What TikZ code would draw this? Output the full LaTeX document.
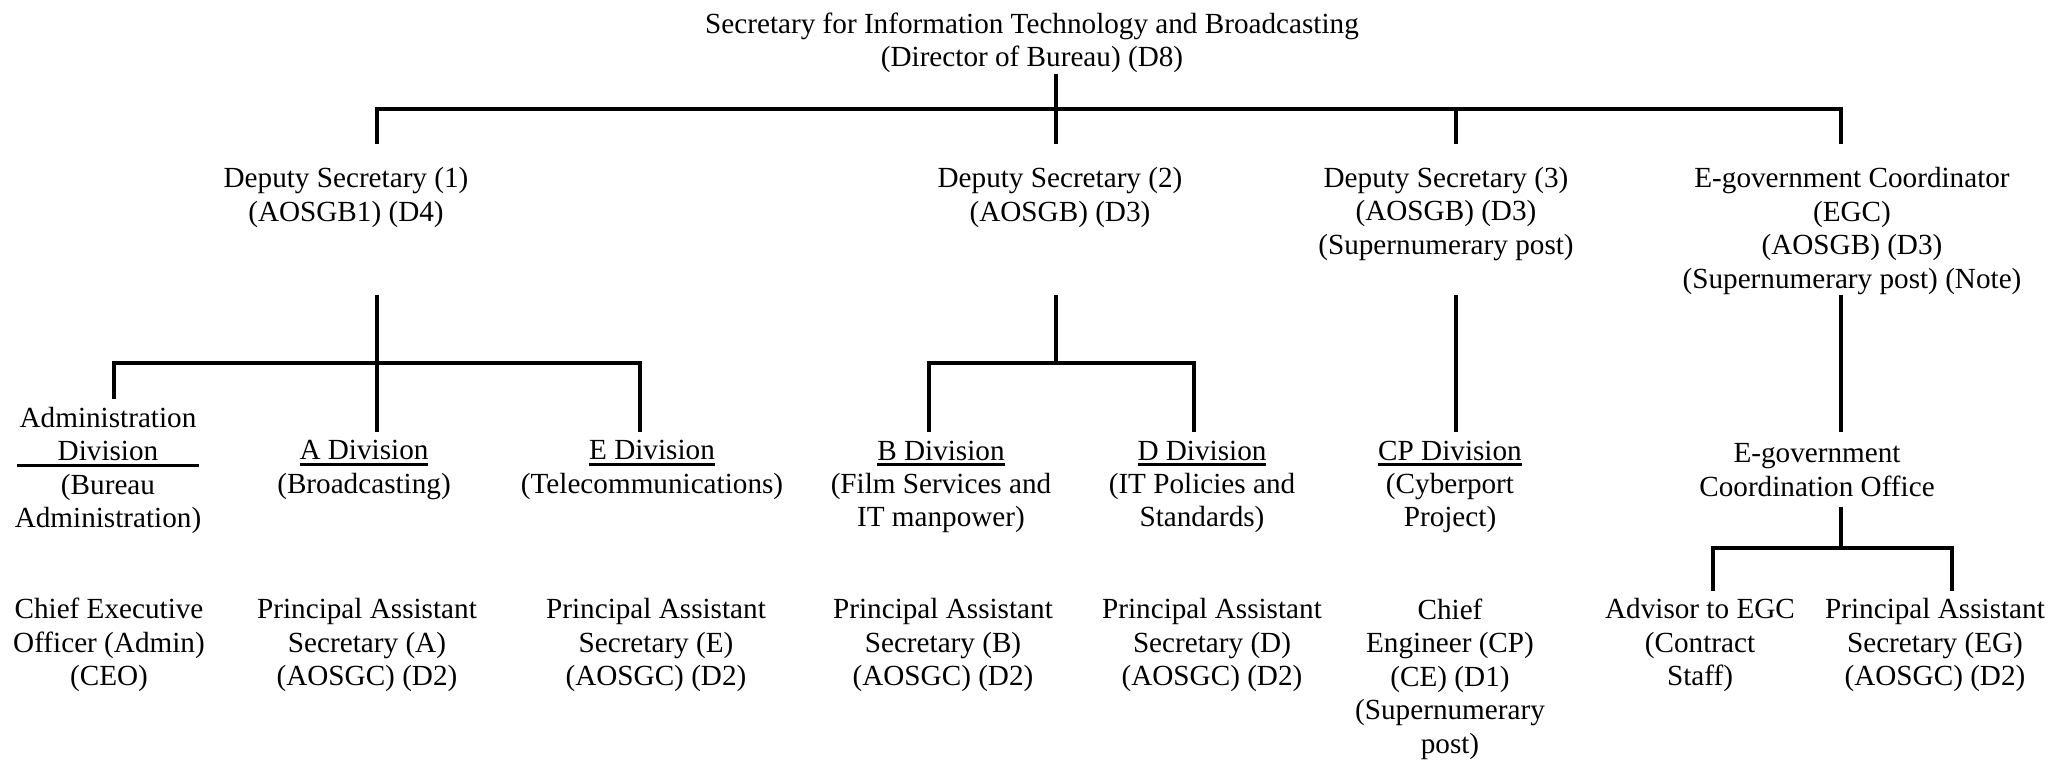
\documentclass[tikz,border=0pt]{standalone}
\usepackage{fontspec}
\setmainfont{Liberation Serif}
\newcommand\myul[1]{\setbox0\hbox{#1}\rlap{\raisebox{-1.7pt}{\rule{\wd0}{0.9pt}}}\box0}
\begin{document}
\begin{tikzpicture}[x=0.01cm, y=-0.01cm,
  lbl/.style={align=center, inner sep=0pt, font=\fontsize{8.3}{9.5}\selectfont},
  conn/.style={line width=0.95pt}]
\useasboundingbox (0,0) rectangle (2051,759);
% level 0
\node[lbl] (sec) at (1032,43) {Secretary for Information Technology and Broadcasting\\(Director of Bureau) (D8)};
% level 1
\node[lbl] (ds1) at (346,197.5) {Deputy Secretary (1)\\(AOSGB1) (D4)};
\node[lbl] (ds2) at (1060,197.5) {Deputy Secretary (2)\\(AOSGB) (D3)};
\node[lbl] (ds3) at (1446,214) {Deputy Secretary (3)\\(AOSGB) (D3)\\(Supernumerary post)};
\node[lbl] (egc) at (1852,231) {E-government Coordinator\\(EGC)\\(AOSGB) (D3)\\(Supernumerary post) (Note)};
% level 2
\node[lbl] (adm) at (108,470.5) {Administration\\\myul{\makebox[1.82cm]{Division}}\\(Bureau\\Administration)};
\node[lbl] (adiv) at (364,470) {\myul{A Division}\\(Broadcasting)};
\node[lbl] (ediv) at (652,470) {\myul{E Division}\\(Telecommunications)};
\node[lbl] (bdiv) at (941,487) {\myul{B Division}\\(Film Services and\\IT manpower)};
\node[lbl] (ddiv) at (1202,487) {\myul{D Division}\\(IT Policies and\\Standards)};
\node[lbl] (cpdiv) at (1450,487) {\myul{CP Division}\\(Cyberport\\Project)};
\node[lbl] (ego) at (1817,470) {E-government\\Coordination Office};
% level 3
\node[lbl] (ceo) at (109,645) {Chief Executive\\Officer (Admin)\\(CEO)};
\node[lbl] (pasa) at (367,645) {Principal Assistant\\Secretary (A)\\(AOSGC) (D2)};
\node[lbl] (pase) at (656,645) {Principal Assistant\\Secretary (E)\\(AOSGC) (D2)};
\node[lbl] (pasb) at (943,645) {Principal Assistant\\Secretary (B)\\(AOSGC) (D2)};
\node[lbl] (pasd) at (1212,645) {Principal Assistant\\Secretary (D)\\(AOSGC) (D2)};
\node[lbl] (ce) at (1450,679) {Chief\\Engineer (CP)\\(CE) (D1)\\(Supernumerary\\post)};
\node[lbl] (adv) at (1700,645) {Advisor to EGC\\(Contract\\Staff)};
\node[lbl] (paseg) at (1935,645) {Principal Assistant\\Secretary (EG)\\(AOSGC) (D2)};
% connector points
\coordinate (secdrop) at (1056,74);
\coordinate (bus1) at (1056,109);
\coordinate (ds1in) at (377,144);
\coordinate (ds2in) at (1056,144);
\coordinate (ds3in) at (1456,144);
\coordinate (egcin) at (1841,144);
\coordinate (ds1out) at (377,295);
\coordinate (ds2out) at (1056,295);
\coordinate (ds3out) at (1456,295);
\coordinate (egcout) at (1841,295);
\coordinate (bus2) at (377,363);
\coordinate (bus3) at (1056,363);
\coordinate (admin) at (114,399);
\coordinate (ain) at (377,432);
\coordinate (ein) at (640,432);
\coordinate (bin) at (929,432);
\coordinate (din) at (1194,432);
\coordinate (cpin) at (1456,432);
\coordinate (egoin) at (1841,432);
\coordinate (egoout) at (1841,507);
\coordinate (bus4) at (1841,548);
\coordinate (advin) at (1713,591);
\coordinate (pegin) at (1952,591);
% connectors
\draw[conn] (secdrop) -- (ds2in);
\draw[conn] (ds1in) -- (ds1in |- bus1) -- (egcin |- bus1) -- (egcin);
\draw[conn] (ds3in) -- (ds3in |- bus1);
\draw[conn] (ds1out) -- (ain);
\draw[conn] (admin) -- (admin |- bus2) -- (ein |- bus2) -- (ein);
\draw[conn] (ds2out) -- (bus3);
\draw[conn] (bin) -- (bin |- bus3) -- (din |- bus3) -- (din);
\draw[conn] (ds3out) -- (cpin);
\draw[conn] (egcout) -- (egoin);
\draw[conn] (egoout) -- (bus4);
\draw[conn] (advin) -- (advin |- bus4) -- (pegin |- bus4) -- (pegin);
\end{tikzpicture}
\end{document}
